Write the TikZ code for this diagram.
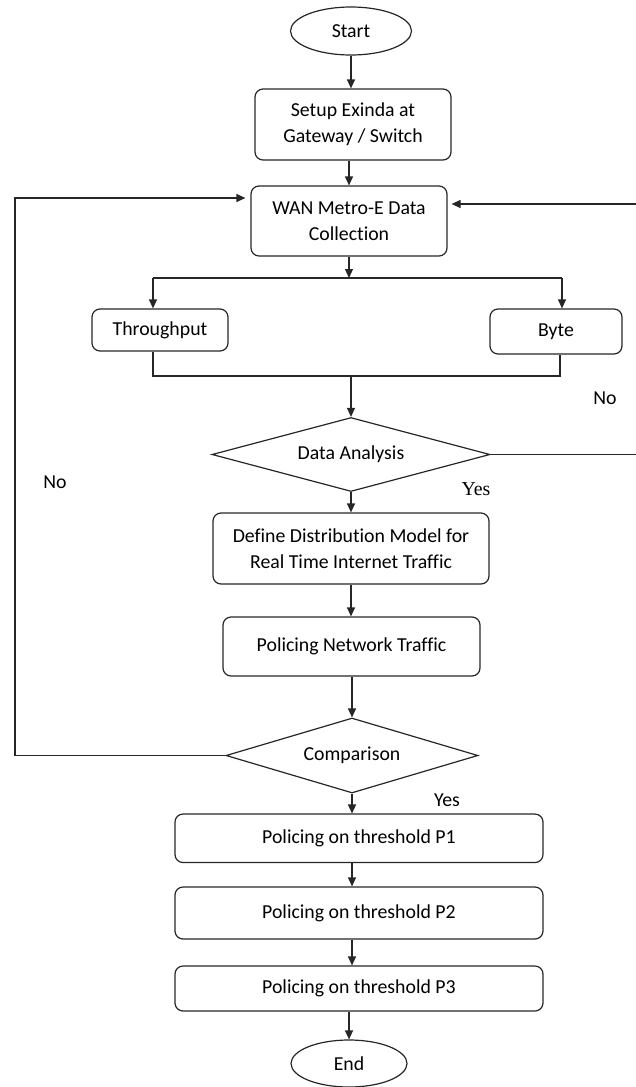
\documentclass[tikz,border=0pt]{standalone}
\usepackage{fontspec}
\setmainfont{Carlito}[Ligatures=NoCommon]
\newfontfamily\serifyes{Liberation Serif}
\usetikzlibrary{arrows.meta,shapes.geometric}

\tikzset{
  flow/.style={draw=black!85, line width=1.2pt},
  arr/.style={flow, -{Triangle[length=9pt,width=8pt]}},
  procbox/.style={flow, rectangle, rounded corners=8pt, inner sep=0pt,
    align=center, text=black, font=\fontsize{19.8}{26}\selectfont},
  termnode/.style={flow, ellipse, inner sep=0pt, text=black,
    font=\fontsize{19.8}{26}\selectfont},
  decision/.style={flow, diamond, aspect=3.4, inner sep=0pt, text=black,
    font=\fontsize{19.8}{26}\selectfont},
  lbl/.style={text=black, font=\fontsize{19.8}{26}\selectfont, inner sep=0pt},
}

\begin{document}
\begin{tikzpicture}[x=1pt, y=-1pt]
\useasboundingbox (0,0) rectangle (636,1087);

% main column
\node[termnode, minimum width=121pt, minimum height=48pt] (start) at (351,31) {Start};
\node[procbox, minimum width=196pt, minimum height=71pt] (setup) at (353,124.5)
  {Setup Exinda at\\Gateway / Switch};
\node[procbox, minimum width=196pt, minimum height=70pt] (wan) at (349,221)
  {WAN Metro-E Data\\Collection};
\node[procbox, minimum width=136pt, minimum height=42pt] (thr) at (160,330) {Throughput};
\node[procbox, minimum width=132pt, minimum height=45pt] (byte) at (556,331.5) {Byte};
\node[decision, minimum width=278pt, minimum height=74pt] (da) at (351,454.5) {Data Analysis};
\node[procbox, minimum width=276pt, minimum height=71pt] (def) at (351,548.5)
  {Define Distribution Model for\\Real Time Internet Traffic};
\node[procbox, minimum width=257pt, minimum height=59pt] (pnt) at (351.5,646.5)
  {Policing Network Traffic};
\node[decision, minimum width=252pt, minimum height=75pt] (cmp) at (352,755.5) {Comparison};
\node[procbox, minimum width=368pt, minimum height=48.5pt] (p1) at (359,838.3)
  {Policing on threshold P1};
\node[procbox, minimum width=368pt, minimum height=52pt] (p2) at (359,913)
  {Policing on threshold P2};
\node[procbox, minimum width=368pt, minimum height=45pt] (p3) at (359,988.5)
  {Policing on threshold P3};
\node[termnode, minimum width=116pt, minimum height=47pt] (end) at (349,1063.5) {End};

% branch and merge points
\coordinate (splitL) at (153,278);
\coordinate (splitR) at (562,278);
\coordinate (mergeL) at (153,376);
\coordinate (mergeR) at (560,376);
\coordinate (loopR) at (641,204);
\coordinate (loopL) at (15,198);

% straight connectors
\draw[arr] (start.south) -- (start.south |- setup.north);
\draw[arr] (wan.north |- setup.south) -- (wan.north);
\draw[arr] (wan.south) -- (wan.south |- splitL);
\draw[flow] (splitL) -- (splitR);
\draw[arr] (splitL) -- (splitL |- thr.north);
\draw[arr] (splitR) -- (splitR |- byte.north);
\draw[flow] (mergeL |- thr.south) -- (mergeL) -- (mergeR) -- (mergeR |- byte.south);
\draw[arr] (da.north |- mergeL) -- (da.north);
\draw[arr] (da.south) -- (da.south |- def.north);
\draw[arr] (def.south) -- (def.south |- pnt.north);
\draw[arr] (pnt.south -| cmp.north) -- (cmp.north);
\draw[arr] (cmp.south) -- (cmp.south |- p1.north);
\draw[arr] (p1.south -| cmp.south) -- (cmp.south |- p2.north);
\draw[arr] (p2.south -| cmp.south) -- (cmp.south |- p3.north);
\draw[arr] (p3.south -| end.north) -- (end.north);

% feedback loops
\draw[arr, shorten >=4pt] (da.east) -- (da.east -| loopR) -- (loopR) -- (loopR -| wan.east);
\draw[arr, shorten >=5pt] (cmp.west) -- (cmp.west -| loopL) -- (loopL) -- (loopL -| wan.west);

% branch labels
\node[lbl] (noR) at (605,398) {No};
\node[lbl, font=\fontsize{19.8}{26}\selectfont\serifyes] (yesA) at (476,489) {Yes};
\node[lbl] (noL) at (55,482) {No};
\node[lbl] (yesB) at (447,800) {Yes};
\end{tikzpicture}
\end{document}
